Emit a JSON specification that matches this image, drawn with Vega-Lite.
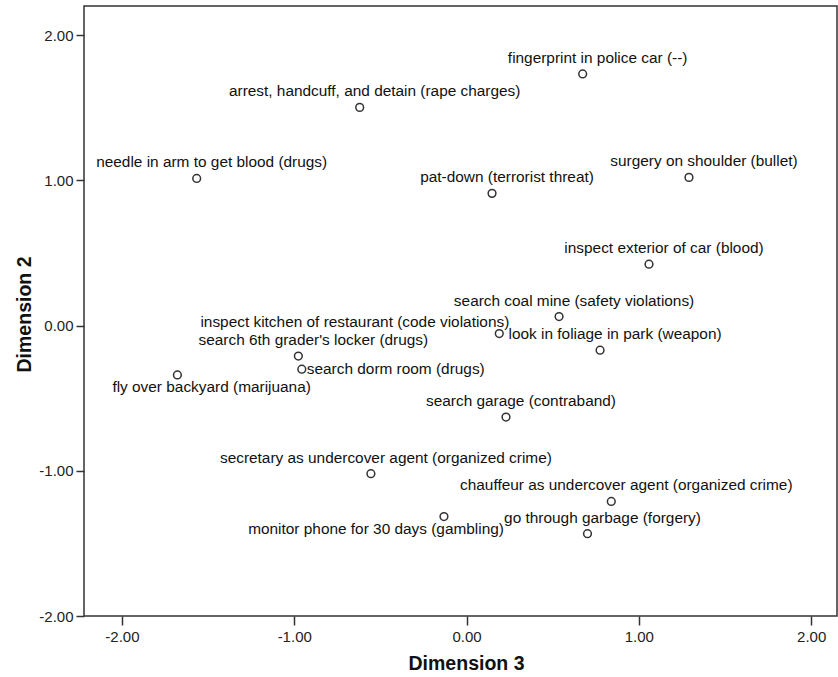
{
  "$schema": "https://vega.github.io/schema/vega-lite/v6.json",
  "width": 753,
  "height": 610,
  "autosize": {"type": "none"},
  "padding": {"left": 84, "top": 6, "right": 1, "bottom": 61},
  "background": "white",
  "config": {
    "view": {"stroke": "#333333", "strokeWidth": 1.5},
    "font": "Liberation Sans"
  },
  "data": {
    "values": [
      {"label": "fingerprint in police car (--)", "dim3": 0.674, "dim2": 1.732},
      {"label": "arrest, handcuff, and detain (rape charges)", "dim3": -0.620, "dim2": 1.502},
      {"label": "needle in arm to get blood (drugs)", "dim3": -1.566, "dim2": 1.013},
      {"label": "surgery on shoulder (bullet)", "dim3": 1.291, "dim2": 1.020},
      {"label": "pat-down (terrorist threat)", "dim3": 0.148, "dim2": 0.910},
      {"label": "inspect exterior of car (blood)", "dim3": 1.059, "dim2": 0.422},
      {"label": "search coal mine (safety violations)", "dim3": 0.537, "dim2": 0.062},
      {"label": "inspect kitchen of restaurant (code violations)", "dim3": 0.190, "dim2": -0.055},
      {"label": "look in foliage in park (weapon)", "dim3": 0.775, "dim2": -0.170},
      {"label": "search 6th grader's locker (drugs)", "dim3": -0.976, "dim2": -0.210},
      {"label": "search dorm room (drugs)", "dim3": -0.956, "dim2": -0.301},
      {"label": "fly over backyard (marijuana)", "dim3": -1.678, "dim2": -0.340},
      {"label": "search garage (contraband)", "dim3": 0.229, "dim2": -0.630},
      {"label": "secretary as undercover agent (organized crime)", "dim3": -0.555, "dim2": -1.020},
      {"label": "chauffeur as undercover agent (organized crime)", "dim3": 0.840, "dim2": -1.211},
      {"label": "monitor phone for 30 days (gambling)", "dim3": -0.131, "dim2": -1.315},
      {"label": "go through garbage (forgery)", "dim3": 0.702, "dim2": -1.433}
    ]
  },
  "encoding": {
    "x": {
      "field": "dim3",
      "type": "quantitative",
      "scale": {"domain": [-2.22, 2.15], "nice": false, "zero": false},
      "axis": {
        "title": "Dimension 3",
        "values": [-2, -1, 0, 1, 2],
        "format": ".2f",
        "labelExpr": "replace(datum.label, '\u2212', '-')",
        "grid": false,
        "domain": false,
        "tickSize": 9,
        "tickColor": "#333333",
        "tickWidth": 1.5,
        "labelFontSize": 15,
        "labelColor": "#222222",
        "labelPadding": 4,
        "titleFontSize": 19.5,
        "titleFontWeight": "bold",
        "titleColor": "#111111",
        "titleBaseline": "alphabetic",
        "titleX": 382,
        "titleY": 53
      }
    },
    "y": {
      "field": "dim2",
      "type": "quantitative",
      "scale": {"domain": [-2.0, 2.2], "nice": false, "zero": false},
      "axis": {
        "title": "Dimension 2",
        "values": [-2, -1, 0, 1, 2],
        "format": ".2f",
        "labelExpr": "replace(datum.label, '\u2212', '-')",
        "grid": false,
        "domain": false,
        "tickSize": 8,
        "tickColor": "#333333",
        "tickWidth": 1.5,
        "labelFontSize": 15,
        "labelColor": "#222222",
        "labelPadding": 3,
        "titleFontSize": 19.5,
        "titleFontWeight": "bold",
        "titleColor": "#111111",
        "titleBaseline": "alphabetic",
        "titleAlign": "center",
        "titleAngle": -90,
        "titleX": -54,
        "titleY": 308
      }
    }
  },
  "layer": [
    {
      "mark": {"type": "point", "shape": "circle", "filled": false, "size": 60, "stroke": "#333333", "strokeWidth": 1.5, "opacity": 1}
    },
    {
      "transform": [{"filter": {"field": "label", "oneOf": [
        "fingerprint in police car (--)",
        "arrest, handcuff, and detain (rape charges)",
        "needle in arm to get blood (drugs)",
        "surgery on shoulder (bullet)",
        "pat-down (terrorist threat)",
        "inspect exterior of car (blood)",
        "search coal mine (safety violations)",
        "look in foliage in park (weapon)",
        "search 6th grader's locker (drugs)",
        "search garage (contraband)",
        "secretary as undercover agent (organized crime)",
        "chauffeur as undercover agent (organized crime)",
        "go through garbage (forgery)"
      ]}}],
      "mark": {"type": "text", "align": "center", "baseline": "alphabetic", "dx": 15, "dy": -11, "fontSize": 15.4, "color": "#111111"},
      "encoding": {"text": {"field": "label", "type": "nominal"}}
    },
    {
      "transform": [{"filter": {"field": "label", "equal": "inspect kitchen of restaurant (code violations)"}}],
      "mark": {"type": "text", "align": "right", "baseline": "alphabetic", "dx": 10, "dy": -7, "fontSize": 15.4, "color": "#111111"},
      "encoding": {"text": {"field": "label", "type": "nominal"}}
    },
    {
      "transform": [{"filter": {"field": "label", "equal": "search dorm room (drugs)"}}],
      "mark": {"type": "text", "align": "left", "baseline": "alphabetic", "dx": 5, "dy": 5, "fontSize": 15.4, "color": "#111111"},
      "encoding": {"text": {"field": "label", "type": "nominal"}}
    },
    {
      "transform": [{"filter": {"field": "label", "equal": "fly over backyard (marijuana)"}}],
      "mark": {"type": "text", "align": "left", "baseline": "alphabetic", "dx": -65, "dy": 17, "fontSize": 15.4, "color": "#111111"},
      "encoding": {"text": {"field": "label", "type": "nominal"}}
    },
    {
      "transform": [{"filter": {"field": "label", "equal": "monitor phone for 30 days (gambling)"}}],
      "mark": {"type": "text", "align": "right", "baseline": "alphabetic", "dx": 60, "dy": 17, "fontSize": 15.4, "color": "#111111"},
      "encoding": {"text": {"field": "label", "type": "nominal"}}
    }
  ]
}
